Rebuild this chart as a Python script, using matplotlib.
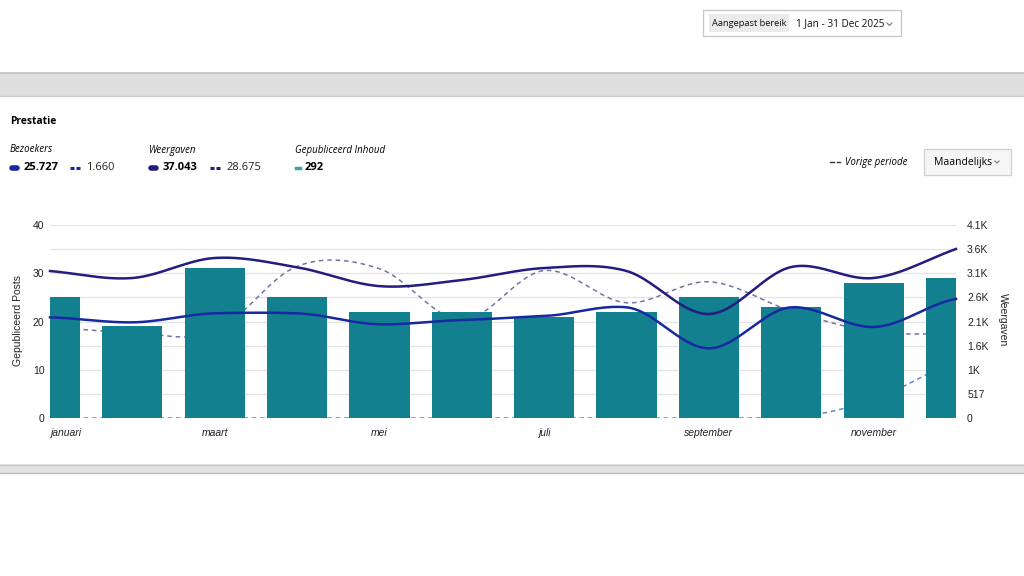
import numpy as np
import matplotlib.pyplot as plt
from matplotlib.patches import Rectangle

plt.rcParams['font.family'] = ['Liberation Sans', 'DejaVu Sans']

# maanden en tick-labels
maanden = ['januari', 'februari', 'maart', 'april', 'mei', 'juni', 'juli',
           'augustus', 'september', 'oktober', 'november', 'december']
maand_labels = ['januari', '', 'maart', '', 'mei', '', 'juli', '',
                'september', '', 'november', '']

# gepubliceerde posts per maand (linker as)
posts = [25, 19, 31, 25, 22, 22, 21, 22, 25, 23, 28, 29]
# weergaven / bezoekers (rechter as)
weergaven = [3150, 3000, 3429, 3230, 2826, 2957, 3214, 3150, 2229, 3236, 3000, 3622]
weergaven_vorig = [1950, 1830, 1850, 3250, 3200, 2100, 3160, 2470, 2920, 2295, 1850, 1800]
bezoekers = [2158, 2050, 2243, 2243, 2008, 2100, 2186, 2372, 1493, 2372, 1950, 2552]
bezoekers_vorig = [0, 0, 0, 0, 0, 0, 0, 0, 0, 0, 400, 1260]

links_ticks = [0, 10, 20, 30, 40]
rechts_ticks = [0, 517, 1034, 1551, 2068, 2585, 3102, 3619, 4136]
rechts_labels = ['0', '517', '1K', '1.6K', '2.1K', '2.6K', '3.1K', '3.6K', '4.1K']

kleur_bar = '#13808f'
kleur_weerg = '#241c7e'
kleur_bez = '#1729a0'
kleur_weerg_v = '#74739f'
kleur_bez_v = '#5e8cc8'


def glad(y, c=0.0, n=40):
    # cardinal spline door de punten, alleen om de lijn vloeiend te tekenen
    y = np.asarray(y, dtype=float)
    k = len(y)
    m = np.zeros(k)
    for i in range(k):
        a = y[max(i - 1, 0)]
        b = y[min(i + 1, k - 1)]
        m[i] = (1 - c) * (b - a) / (2 if 0 < i < k - 1 else 1)
    xs, ys = [], []
    for i in range(k - 1):
        t = np.linspace(0, 1, n, endpoint=False)
        h00 = 2 * t**3 - 3 * t**2 + 1
        h10 = t**3 - 2 * t**2 + t
        h01 = -2 * t**3 + 3 * t**2
        h11 = t**3 - t**2
        xs.append(i + t)
        ys.append(h00 * y[i] + h10 * m[i] + h01 * y[i + 1] + h11 * m[i + 1])
    xs.append([k - 1])
    ys.append([y[-1]])
    return np.concatenate(xs), np.concatenate(ys)


fig = plt.figure(figsize=(10.24, 5.76), dpi=100)
fig.patch.set_facecolor('white')

# achtergrond in pixelcoordinaten
bg = fig.add_axes([0, 0, 1, 1], zorder=0)
bg.set_xlim(0, 1024)
bg.set_ylim(576, 0)
bg.axis('off')

bg.add_patch(Rectangle((0, 72), 1024, 24, fc='#dedede', ec='none'))
bg.plot([0, 1024], [73, 73], color='#c4c4c4', lw=1.2)
bg.plot([0, 1024], [95.5, 95.5], color='#cccccc', lw=1)
bg.add_patch(Rectangle((0, 464), 1024, 9, fc='#e2e2e2', ec='none'))
bg.plot([0, 1024], [464.5, 464.5], color='#c8c8c8', lw=1)
bg.plot([0, 1024], [472.5, 472.5], color='#bdbdbd', lw=1)

hf = ['Open Sans', 'DejaVu Sans']

# datum-knop
bg.add_patch(Rectangle((703, 10), 198, 26, fc='white', ec='#c6c6c6', lw=0.9))
bg.add_patch(Rectangle((709, 14), 80, 18, fc='#ebebeb', ec='none'))
bg.text(712, 23.5, 'Aangepast bereik', fontsize=6.7, va='center', ha='left',
        family=hf, color='#111111')
bg.text(796, 23.5, '1 Jan - 31 Dec 2025', fontsize=7.2, va='center', ha='left',
        family=hf, color='#111111')
bg.plot([887, 889.5, 892], [23, 25.5, 23], color='#777777', lw=0.8)

# titel en legenda
bg.text(10, 122, 'Prestatie', fontsize=7.4, fontweight='bold', va='center', family=hf)
bg.text(10, 150, 'Bezoekers', fontsize=7, style='italic', va='center', family=hf)
bg.text(149, 150, 'Weergaven', fontsize=7, style='italic', va='center', family=hf)
bg.text(295, 150, 'Gepubliceerd Inhoud', fontsize=7, style='italic', va='center', family=hf)

bg.plot([12, 17], [168, 168], color=kleur_bez, lw=4, solid_capstyle='round')
bg.text(24, 168, '25.727', fontsize=8, fontweight='bold', va='center', family=hf)
bg.plot([70, 74], [168, 168], color=kleur_bez, lw=2.2, solid_capstyle='butt')
bg.plot([76, 80], [168, 168], color=kleur_bez, lw=2.2, solid_capstyle='butt')
bg.text(86, 168, '1.660', fontsize=8, va='center', family=hf, color='#222222')

bg.plot([151, 156], [168, 168], color=kleur_weerg, lw=4, solid_capstyle='round')
bg.text(163, 168, '37.043', fontsize=8, fontweight='bold', va='center', family=hf)
bg.plot([210, 214], [168, 168], color=kleur_weerg, lw=2.2, solid_capstyle='butt')
bg.plot([216, 220], [168, 168], color=kleur_weerg, lw=2.2, solid_capstyle='butt')
bg.text(226, 168, '28.675', fontsize=8, va='center', family=hf, color='#222222')

bg.plot([296, 300], [168, 168], color='#3aa5a5', lw=2.5)
bg.text(305, 168, '292', fontsize=8, fontweight='bold', va='center', family=hf)

bg.plot([830, 833.5], [162, 162], color='#333333', lw=1)
bg.plot([836.5, 840], [162, 162], color='#333333', lw=1)
bg.text(845, 162, 'Vorige periode', fontsize=7, style='italic', va='center', family=hf)

bg.add_patch(Rectangle((924, 149), 87, 26, fc='#f5f5f5', ec='#cfcfcf', lw=0.9))
bg.text(934, 162, 'Maandelijks', fontsize=7.5, va='center', ha='left', family=hf)
bg.plot([995, 997, 999], [161, 163, 161], color='#777777', lw=0.8)

# grafiek
rect = [50 / 1024, 1 - 418 / 576, 906 / 1024, 193 / 576]
x = np.arange(len(maanden))

ax_back = fig.add_axes(rect, zorder=1)
ax_back.set_xlim(0, 11)
ax_back.set_ylim(0, 4136)
ax_back.patch.set_visible(False)
for yv in rechts_ticks:
    ax_back.axhline(yv, color='#e4e4e4', lw=0.9, zorder=0)
xv, yv = glad(weergaven_vorig)
ax_back.plot(xv, yv, color=kleur_weerg_v, lw=1.1, ls=(0, (3, 2.5)))
xb, yb = glad(bezoekers_vorig)
ax_back.plot(xb, np.maximum(yb, 0), color=kleur_bez_v, lw=1.1, ls=(0, (3, 2.5)))
ax_back.axis('off')

ax = fig.add_axes(rect, zorder=2)
ax.patch.set_visible(False)
ax.bar(x, posts, width=0.73, color=kleur_bar, zorder=2)
ax.set_xlim(0, 11)
ax.set_ylim(0, 40)
ax.set_yticks(links_ticks)
ax.set_xticks(x)
ax.set_xticklabels(maand_labels, fontsize=7.5, style='italic', color='#222222')
ax.get_xticklabels()[0].set_horizontalalignment('left')
ax.tick_params(axis='both', length=0, labelsize=7.5, colors='#222222')
ax.tick_params(axis='y', pad=4)
ax.tick_params(axis='x', pad=7)
for s in ax.spines.values():
    s.set_visible(False)

ax2 = ax.twinx()
ax2.set_zorder(3)
ax2.patch.set_visible(False)
ax2.set_ylim(0, 4136)
ax2.set_yticks(rechts_ticks)
ax2.set_yticklabels(rechts_labels)
ax2.tick_params(axis='y', length=0, labelsize=7.5, colors='#222222', pad=8)
for s in ax2.spines.values():
    s.set_visible(False)
xw, yw = glad(weergaven)
ax2.plot(xw, yw, color=kleur_weerg, lw=1.8, clip_on=False)
xz, yz = glad(bezoekers, c=0.5)
ax2.plot(xz, yz, color=kleur_bez, lw=1.8, clip_on=False)

fig.text(18 / 1024, 1 - 320 / 576, 'Gepubliceerd Posts', rotation=90,
         ha='center', va='center', fontsize=7.5, color='#222222')
fig.text(1003 / 1024, 1 - 320 / 576, 'Weergaven', rotation=270,
         ha='center', va='center', fontsize=7.5, color='#222222')

fig.savefig('out.png', dpi=100, facecolor='white')
